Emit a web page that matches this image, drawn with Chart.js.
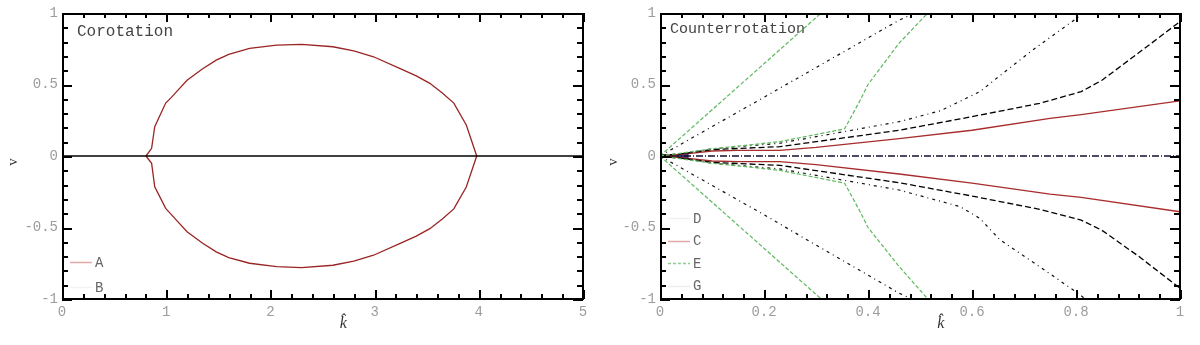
<!DOCTYPE html>
<html>
<head>
<meta charset="utf-8">
<script src="https://cdn.jsdelivr.net/npm/chart.js@4.4.1/dist/chart.umd.min.js"></script>
<style>
  html, body { margin: 0; padding: 0; background: #ffffff; }
  #wrap { width: 1200px; height: 345px; position: relative; overflow: hidden; }
  canvas { position: absolute; top: 0; }
  #c1 { left: 0; }
  #c2 { left: 600px; }
</style>
</head>
<body>
<div id="wrap">
  <canvas id="c1" width="600" height="345"></canvas>
  <canvas id="c2" width="600" height="345"></canvas>
</div>
<script>
// ---------- Left panel: Corotation ----------
const leftXTicks = [0, 1, 2, 3, 4, 5];
const leftYTicks = [-1, -0.5, 0, 0.5, 1];
const aUpK = [0.806, 0.86, 0.89, 0.995, 1.05, 1.1, 1.2, 1.35, 1.48, 1.6, 1.8, 2.06, 2.3, 2.6, 2.8, 2.99, 3.24, 3.4, 3.53, 3.65, 3.76, 3.88, 3.98];
const aUpV = [0, 0.054, 0.205, 0.37, 0.41, 0.45, 0.53, 0.61, 0.67, 0.71, 0.753, 0.776, 0.78, 0.764, 0.735, 0.694, 0.613, 0.56, 0.508, 0.44, 0.37, 0.217, 0];
const aLoK = [0.806, 0.86, 0.89, 0.995, 1.05, 1.1, 1.2, 1.35, 1.48, 1.6, 1.8, 2.06, 2.3, 2.6, 2.8, 2.99, 3.24, 3.4, 3.53, 3.65, 3.76, 3.88, 3.98];
const aLoV = [0, -0.051, -0.215, -0.366, -0.41, -0.45, -0.53, -0.61, -0.67, -0.71, -0.75, -0.774, -0.78, -0.764, -0.735, -0.694, -0.613, -0.56, -0.508, -0.44, -0.37, -0.217, 0];
const bK = [0, 5];
const bV = [0, 0];

// ---------- Right panel: Counterrotation ----------
const rightXTicks = [0, 0.2, 0.4, 0.6, 0.8, 1];
const rightYTicks = [-1, -0.5, 0, 0.5, 1];
// C (red)
const cUpK = [0, 0.05, 0.1, 0.15, 0.23, 0.3, 0.46, 0.6, 0.75, 0.81, 1.0];
const cUpV = [0, 0.015, 0.035, 0.04, 0.04, 0.06, 0.122, 0.18, 0.263, 0.29, 0.386];
const cLoK = [0, 0.05, 0.1, 0.15, 0.23, 0.3, 0.46, 0.6, 0.75, 0.81, 1.0];
const cLoV = [0, -0.015, -0.035, -0.04, -0.04, -0.06, -0.126, -0.19, -0.266, -0.29, -0.39];
// D (black dashed)
const dUpK = [0, 0.05, 0.1, 0.23, 0.46, 0.6, 0.73, 0.81, 0.85, 0.92, 1.0];
const dUpV = [0, 0.02, 0.045, 0.065, 0.18, 0.275, 0.368, 0.45, 0.53, 0.72, 0.94];
const dLoK = [0, 0.05, 0.1, 0.23, 0.46, 0.6, 0.73, 0.81, 0.85, 0.92, 1.0];
const dLoV = [0, -0.02, -0.045, -0.065, -0.187, -0.28, -0.373, -0.448, -0.52, -0.70, -0.925];
// G (black dash-dot), bent branch
const g1UpK = [0, 0.05, 0.1, 0.23, 0.46, 0.54, 0.615, 0.66, 0.72, 0.8, 0.815];
const g1UpV = [0, 0.02, 0.05, 0.089, 0.24, 0.317, 0.45, 0.58, 0.75, 0.96, 1.0];
const g1LoK = [0, 0.05, 0.1, 0.23, 0.46, 0.577, 0.615, 0.654, 0.73, 0.8, 0.818];
const g1LoV = [0, -0.02, -0.05, -0.09, -0.238, -0.354, -0.436, -0.587, -0.774, -0.95, -1.0];
// G (black dash-dot), steep branch
const g2UpK = [0, 0.19, 0.46, 0.49];
const g2UpV = [0, 0.39, 0.95, 1.0];
const g2LoK = [0, 0.19, 0.46, 0.485];
const g2LoV = [0, -0.39, -0.96, -1.0];
// E (green), steep branch
const e1UpK = [0, 0.31];
const e1UpV = [0, 1.0];
const e1LoK = [0, 0.31];
const e1LoV = [0, -1.0];
// E (green), bent branch
const e2UpK = [0, 0.1, 0.23, 0.355, 0.385, 0.40, 0.46, 0.515];
const e2UpV = [0, 0.05, 0.10, 0.19, 0.39, 0.50, 0.79, 1.0];
const e2LoK = [0, 0.1, 0.23, 0.355, 0.385, 0.40, 0.46, 0.515];
const e2LoV = [0, -0.05, -0.10, -0.19, -0.39, -0.50, -0.774, -1.0];
// zero line and the small blue cluster at the origin
const zK = [0, 1];
const zV = [0, 0];
const blueK = [0.004, 0.055];
const blueV = [0, 0];

function pts(ks, vs) { return ks.map((k, i) => ({ x: k, y: vs[i] })); }

const MONO = "'Liberation Mono', 'DejaVu Sans Mono', monospace";
const SERIF = "'Liberation Serif', 'DejaVu Serif', serif";

function ds(k, v, color, dash, width) {
  return {
    data: pts(k, v), borderColor: color, borderWidth: width || 1.2,
    borderDash: dash || [], pointRadius: 0, fill: false, tension: 0
  };
}

// Frame, inner ticks, titles and legends
function framePlugin(cfg) {
  return {
    id: 'frame' + cfg.title,
    afterDraw(chart) {
      const ctx = chart.ctx, a = chart.chartArea;
      const xs = chart.scales.x, ys = chart.scales.y;
      const L0 = Math.round(a.left), R0 = Math.round(a.right);
      const T0 = Math.round(a.top), B0 = Math.round(a.bottom);
      ctx.save();
      ctx.fillStyle = '#000000';
      const nx = Math.round((cfg.xMax - cfg.xMin) / cfg.xMinor);
      for (let i = 0; i <= nx; i++) {
        const v = cfg.xMin + i * cfg.xMinor;
        const major = (i % cfg.xMajorEvery) === 0;
        const L = major ? 9 : 5;
        const px = Math.round(xs.getPixelForValue(v));
        ctx.fillRect(px, B0 - L, 2, L);
        ctx.fillRect(px, T0, 2, L);
      }
      const ny = Math.round((cfg.yMax - cfg.yMin) / cfg.yMinor);
      for (let i = 0; i <= ny; i++) {
        const v = cfg.yMin + i * cfg.yMinor;
        const major = (i % cfg.yMajorEvery) === 0;
        const L = major ? 10 : 6;
        const py = Math.round(ys.getPixelForValue(v));
        ctx.fillRect(L0, py, L, 2);
        ctx.fillRect(R0 - L, py, L, 2);
      }
      // frame box
      ctx.fillRect(L0, T0, R0 - L0 + 1, 2);
      ctx.fillRect(L0, B0 - 1, R0 - L0 + 1, 2);
      ctx.fillRect(L0, T0, 2, B0 - T0 + 1);
      ctx.fillRect(R0 - 1, T0, 2, B0 - T0 + 1);
      // panel title
      ctx.fillStyle = '#444';
      ctx.font = cfg.titleSize + 'px ' + MONO;
      ctx.textBaseline = 'middle';
      ctx.textAlign = 'left';
      ctx.fillText(cfg.title, a.left + cfg.titleDx, a.top + cfg.titleDy);
      // legend
      ctx.font = '14px ' + MONO;
      ctx.lineWidth = 1.5;
      cfg.legend.forEach((e, i) => {
        const y = a.top + cfg.legendY0 + i * cfg.legendDy;
        ctx.strokeStyle = e.color;
        ctx.setLineDash(e.dash || []);
        ctx.beginPath();
        ctx.moveTo(a.left + cfg.legendX0, Math.round(y) + 0.5);
        ctx.lineTo(a.left + cfg.legendX0 + 22, Math.round(y) + 0.5);
        ctx.stroke();
        ctx.setLineDash([]);
        ctx.fillStyle = '#666';
        ctx.fillText(e.label, a.left + cfg.legendX0 + 25, y + 1);
      });
      // axis titles
      ctx.fillStyle = '#333';
      ctx.font = 'italic 16px ' + SERIF;
      ctx.textAlign = 'center';
      ctx.fillText('k\u0302', a.left + (a.right - a.left) * 0.54, 324);
      ctx.save();
      ctx.translate(13, (a.top + a.bottom) / 2 + 6);
      ctx.rotate(-Math.PI / 2);
      ctx.font = '15px ' + SERIF;
      ctx.fillText('v', 0, 0);
      ctx.restore();
      ctx.restore();
    }
  };
}

function fmt(v) { return String(Math.round(v * 100) / 100); }

function makeOptions(xMin, xMax, xTicks, yTicks, rightPad, yWidth) {
  const tickFont = { family: MONO, size: 14 };
  return {
    responsive: false, animation: false, devicePixelRatio: 1,
    layout: { padding: { top: 13, right: rightPad, left: 0, bottom: 0 } },
    plugins: { legend: { display: false }, tooltip: { enabled: false }, title: { display: false } },
    elements: { point: { radius: 0 }, line: { tension: 0 } },
    scales: {
      x: {
        type: 'linear', min: xMin, max: xMax,
        afterBuildTicks: s => { s.ticks = xTicks.map(v => ({ value: v })); },
        ticks: { color: '#9c9c9c', font: tickFont, padding: 5, maxRotation: 0, autoSkip: false, callback: v => fmt(v) },
        grid: { display: false, drawTicks: false },
        border: { display: false },
        afterFit: s => { s.height = 46; }
      },
      y: {
        type: 'linear', min: -1, max: 1,
        afterBuildTicks: s => { s.ticks = yTicks.map(v => ({ value: v })); },
        ticks: { color: '#9c9c9c', font: tickFont, padding: 4, autoSkip: false, callback: v => fmt(v) },
        grid: { display: false, drawTicks: false },
        border: { display: false },
        afterFit: s => { s.width = yWidth; }
      }
    }
  };
}

// Left chart
new Chart(document.getElementById('c1'), {
  type: 'line',
  data: {
    datasets: [
      ds(bK, bV, '#000000', [], 1.5),
      ds(aUpK, aUpV, '#9a2424', [], 1.3),
      ds(aLoK, aLoV, '#9a2424', [], 1.3)
    ]
  },
  options: makeOptions(0, 5, leftXTicks, leftYTicks, 17, 62),
  plugins: [framePlugin({
    xMin: 0, xMax: 5, xMinor: 0.2, xMajorEvery: 5,
    yMin: -1, yMax: 1, yMinor: 0.1, yMajorEvery: 5,
    title: 'Corotation', titleSize: 16, titleDx: 15, titleDy: 19,
    legend: [
      { label: 'A', color: '#e3a8a8' },
      { label: 'B', color: '#f2f2f2' }
    ],
    legendX0: 8, legendY0: 249, legendDy: 25
  })]
});

// Right chart
new Chart(document.getElementById('c2'), {
  type: 'line',
  data: {
    datasets: [
      ds(e1UpK, e1UpV, '#5cb85c', [4, 2]),
      ds(e1LoK, e1LoV, '#5cb85c', [4, 2]),
      ds(e2UpK, e2UpV, '#5cb85c', [4, 2]),
      ds(e2LoK, e2LoV, '#5cb85c', [4, 2]),
      ds(g2UpK, g2UpV, '#111111', [3, 4, 1, 4]),
      ds(g2LoK, g2LoV, '#111111', [3, 4, 1, 4]),
      ds(g1UpK, g1UpV, '#111111', [3, 4, 1, 4]),
      ds(g1LoK, g1LoV, '#111111', [3, 4, 1, 4]),
      ds(dUpK, dUpV, '#000000', [6, 3], 1.3),
      ds(dLoK, dLoV, '#000000', [6, 3], 1.3),
      ds(cUpK, cUpV, '#a82c2c', [], 1.3),
      ds(cLoK, cLoV, '#a82c2c', [], 1.3),
      ds(zK, zV, '#101030', [7, 2, 1, 2], 1.5),
      ds(blueK, blueV, '#30307a', [], 4)
    ]
  },
  options: makeOptions(0, 1, rightXTicks, rightYTicks, 20, 60),
  plugins: [framePlugin({
    xMin: 0, xMax: 1, xMinor: 0.04, xMajorEvery: 5,
    yMin: -1, yMax: 1, yMinor: 0.1, yMajorEvery: 5,
    title: 'Counterrotation', titleSize: 15, titleDx: 10, titleDy: 16,
    legend: [
      { label: 'D', color: '#f2f2f2' },
      { label: 'C', color: '#e3a8a8' },
      { label: 'E', color: '#8fd08f', dash: [3, 2] },
      { label: 'G', color: '#eeeeee' }
    ],
    legendX0: 8, legendY0: 205, legendDy: 22.5
  })]
});
</script>
</body>
</html>
